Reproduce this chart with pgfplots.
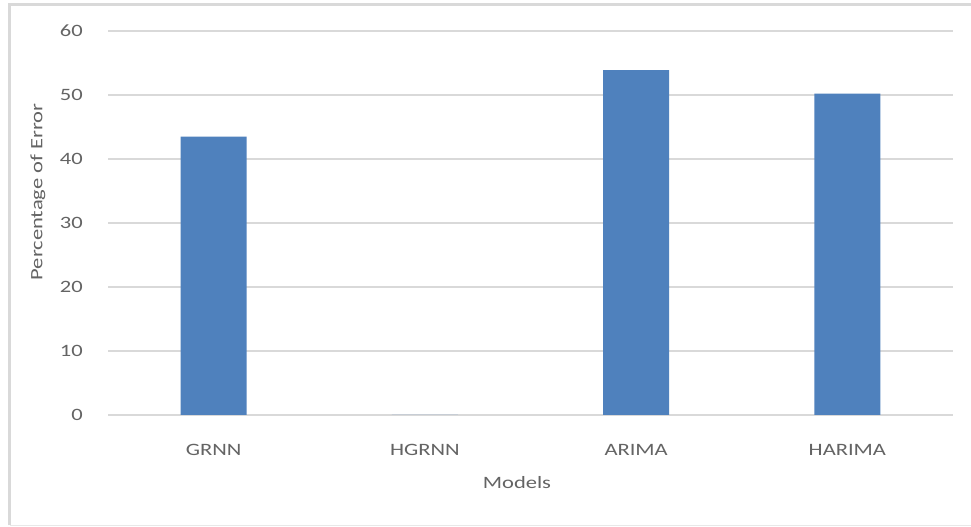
\documentclass[border=0pt]{standalone}
\usepackage{pgfplots}
\pgfplotsset{compat=1.18}
\usepackage{fontspec}
\setmainfont{Carlito}[FakeStretch=1.3]
\definecolor{barblue}{HTML}{4F81BD}
\definecolor{gridgray}{HTML}{D9D9D9}
\definecolor{txtgray}{HTML}{646464}
\begin{document}
\begin{tikzpicture}
\useasboundingbox (0,0) rectangle (728.25pt,395.25pt);
\fill[white] (0,0) rectangle (728.25pt,395.25pt);
\begin{axis}[
  at={(81pt,84pt)}, anchor=south west,
  scale only axis,
  width=633.75pt, height=288pt,
  xmin=-0.5, xmax=3.5,
  ymin=0, ymax=60,
  ytick={0,10,...,60},
  xtick={0,1,2,3},
  xticklabels={GRNN,HGRNN,ARIMA,HARIMA},
  axis line style={draw=none},
  major tick length=0pt,
  ymajorgrids,
  grid style={gridgray, line width=1.1pt},
  /pgf/number format/assume math mode=true,
  font=\fontsize{13pt}{15pt}\selectfont,
  tick label style={text=txtgray},
  yticklabel style={anchor=east, xshift=-15.4pt},
  xticklabel style={anchor=center, yshift=-26pt},
  ylabel={Percentage of Error},
  xlabel={Models},
  every axis y label/.style={at={(axis description cs:-0.083,0.581)}, rotate=90, anchor=center, text=txtgray, font=\fontsize{13pt}{15pt}\selectfont},
  every axis x label/.style={at={(axis description cs:0.484,-0.177)}, anchor=center, text=txtgray, font=\fontsize{13pt}{15pt}\selectfont},
  clip=false,
]
\addplot[ybar, bar width=49.5pt, fill=barblue, draw=none] coordinates {(0,43.5) (1,0) (2,53.9) (3,50.2)};
\end{axis}
\draw[gridgray, line width=2pt] (7.2pt,1.2pt) -- (7.2pt,391.8pt) -- (729pt,391.8pt);
\draw[gridgray!60, line width=1pt] (7.2pt,1.2pt) -- (729pt,1.2pt);
\end{tikzpicture}
\end{document}
